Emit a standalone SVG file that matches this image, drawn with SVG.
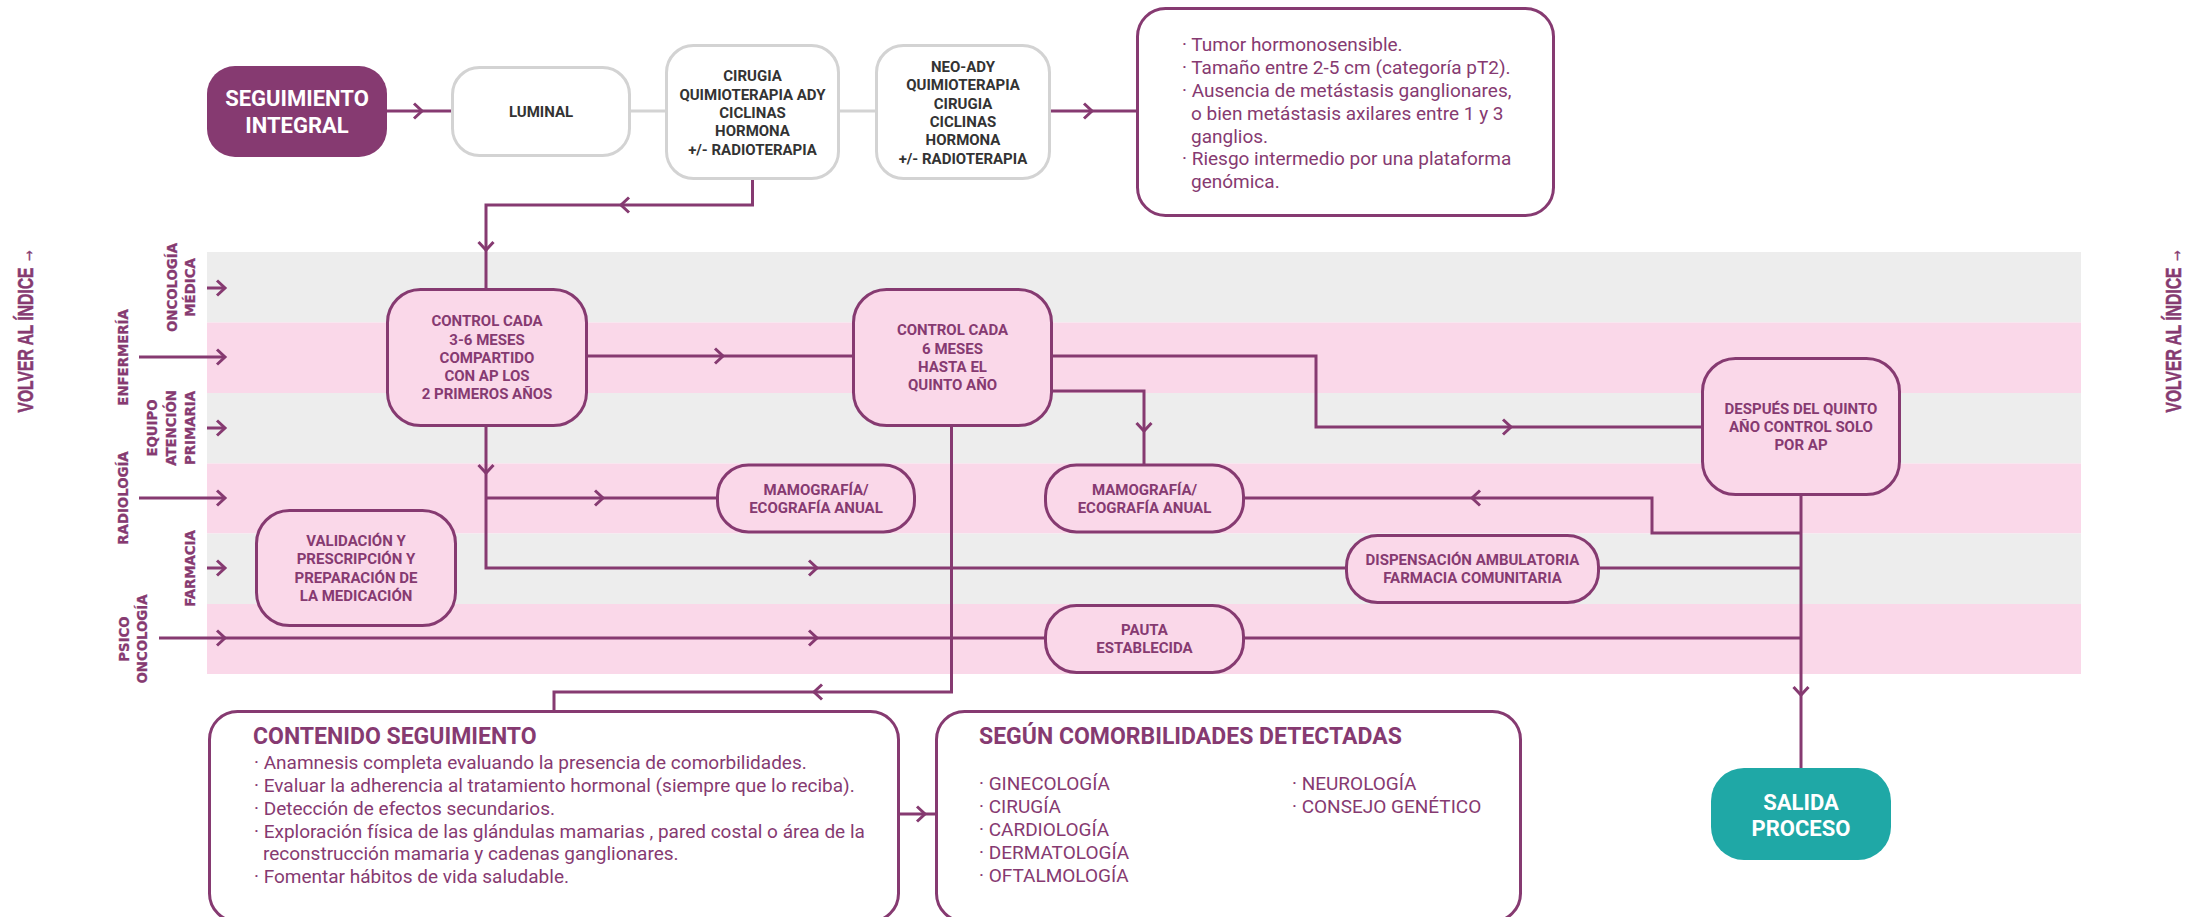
<svg xmlns="http://www.w3.org/2000/svg" xmlns:xlink="http://www.w3.org/1999/xlink" width="2188" height="917" viewBox="0 0 2188 917">
<style>
.bg{fill:#ffffff}
.bandG{fill:#ededed}
.bandP{fill:#fad8e9}
.ln{fill:none;stroke:#863a71;stroke-width:3}
.gl{fill:none;stroke:#d3d3d3;stroke-width:3}
.pk{fill:#fad8e9;stroke:#863a71;stroke-width:3}
.wb{fill:#ffffff;stroke:#863a71;stroke-width:3}
.gy{fill:#ffffff;stroke:#d3d3d3;stroke-width:3}
.nt{font-family:Roboto,"Liberation Sans",sans-serif;font-weight:700;font-size:15px;fill:#863a71;text-anchor:middle}
.gt{font-family:Roboto,"Liberation Sans",sans-serif;font-weight:700;font-size:15px;fill:#333333;text-anchor:middle}
.wt{font-family:Roboto,"Liberation Sans",sans-serif;font-weight:700;font-size:22px;fill:#ffffff;text-anchor:middle}
.bt{font-family:Roboto,"Liberation Sans",sans-serif;font-weight:400;font-size:19px;fill:#863a71}
.tt{font-family:Roboto,"Liberation Sans",sans-serif;font-weight:700;font-size:23px;fill:#863a71}
.lane{font-family:"DejaVu Sans","Liberation Sans",sans-serif;font-weight:700;font-size:13.3px;fill:#863a71;stroke:#863a71;stroke-width:0.3;text-anchor:middle}
.vol{font-family:"Liberation Sans Narrow","Liberation Sans",sans-serif;font-weight:700;font-size:22px;fill:#863a71;stroke:#863a71;stroke-width:0.5;text-anchor:middle}
</style>
<defs>
<path id="ch" d="M-8,-7.5 L0,0 L-8,7.5" fill="none" stroke="#863a71" stroke-width="3"/>
</defs>
<rect class="bg" x="0" y="0" width="2188" height="917"/>

<g id="lanes">
<rect class="bandG" x="207" y="252" width="1874" height="70.5"/>
<rect class="bandP" x="207" y="322.5" width="1874" height="70.5"/>
<rect class="bandG" x="207" y="393" width="1874" height="70.5"/>
<rect class="bandP" x="207" y="463.5" width="1874" height="70"/>
<rect class="bandG" x="207" y="533.5" width="1874" height="70.5"/>
<rect class="bandP" x="207" y="604" width="1874" height="70"/>
<text class="lane" transform="translate(177,287.5) rotate(-90)">ONCOLOGÍA</text>
<text class="lane" transform="translate(195,287.5) rotate(-90)">MÉDICA</text>
<text class="lane" transform="translate(128,357.5) rotate(-90)">ENFERMERÍA</text>
<text class="lane" transform="translate(157,428) rotate(-90)">EQUIPO</text>
<text class="lane" transform="translate(176,428) rotate(-90)">ATENCIÓN</text>
<text class="lane" transform="translate(195,428) rotate(-90)">PRIMARIA</text>
<text class="lane" transform="translate(128,498) rotate(-90)">RADIOLOGÍA</text>
<text class="lane" transform="translate(195,568.5) rotate(-90)">FARMACIA</text>
<text class="lane" transform="translate(129,639) rotate(-90)">PSICO</text>
<text class="lane" transform="translate(147,639) rotate(-90)">ONCOLOGÍA</text>
</g>

<g id="volver-izq">
<text class="vol" transform="translate(33,330) rotate(-90)" textLength="165" lengthAdjust="spacingAndGlyphs">VOLVER AL ÍNDICE →</text>
</g>
<g id="volver-der">
<text class="vol" transform="translate(2181,330) rotate(-90)" textLength="165" lengthAdjust="spacingAndGlyphs">VOLVER AL ÍNDICE →</text>
</g>

<g id="connectors">
<path class="ln" d="M387,111 H451"/>
<path class="gl" d="M631,111 H665"/>
<path class="gl" d="M840,111 H875"/>
<path class="ln" d="M1051,111 H1137"/>
<path class="ln" d="M752.5,179 V205 H486 V288"/>
<path class="ln" d="M207,288 H225"/>
<path class="ln" d="M139,357 H225"/>
<path class="ln" d="M207,428 H225"/>
<path class="ln" d="M139,498 H225"/>
<path class="ln" d="M207,568 H225"/>
<path class="ln" d="M159,638 H1045"/>
<path class="ln" d="M588,356 H852"/>
<path class="ln" d="M1053,356 H1316 V427 H1701"/>
<path class="ln" d="M1053,391 H1144 V464"/>
<path class="ln" d="M486,427 V568 H1345"/>
<path class="ln" d="M486,498 H716"/>
<path class="ln" d="M1245,498 H1652 V533 H1801"/>
<path class="ln" d="M1600,568 H1801"/>
<path class="ln" d="M1244,638 H1801"/>
<path class="ln" d="M1801,496 V768"/>
<path class="ln" d="M951.5,427 V692 H554 V710"/>
<path class="ln" d="M900,814 H935"/>
<use xlink:href="#ch" transform="translate(422,111)"/>
<use xlink:href="#ch" transform="translate(1092,111)"/>
<use xlink:href="#ch" transform="translate(621,205) rotate(180)"/>
<use xlink:href="#ch" transform="translate(486,250) rotate(90)"/>
<use xlink:href="#ch" transform="translate(225,288)"/>
<use xlink:href="#ch" transform="translate(225,357)"/>
<use xlink:href="#ch" transform="translate(225,428)"/>
<use xlink:href="#ch" transform="translate(225,498)"/>
<use xlink:href="#ch" transform="translate(225,568)"/>
<use xlink:href="#ch" transform="translate(225,638)"/>
<use xlink:href="#ch" transform="translate(723,356)"/>
<use xlink:href="#ch" transform="translate(1511,427)"/>
<use xlink:href="#ch" transform="translate(1144,431) rotate(90)"/>
<use xlink:href="#ch" transform="translate(486,473) rotate(90)"/>
<use xlink:href="#ch" transform="translate(603,498)"/>
<use xlink:href="#ch" transform="translate(817,568)"/>
<use xlink:href="#ch" transform="translate(1472,498) rotate(180)"/>
<use xlink:href="#ch" transform="translate(817,638)"/>
<use xlink:href="#ch" transform="translate(814,692) rotate(180)"/>
<use xlink:href="#ch" transform="translate(1801,695) rotate(90)"/>
<use xlink:href="#ch" transform="translate(925,814)"/>
</g>

<g id="seguimiento-integral">
<rect x="207" y="66" width="180" height="91" rx="28" fill="#863a71"/>
<text class="wt" x="297" y="105.7">SEGUIMIENTO</text>
<text class="wt" x="297" y="133">INTEGRAL</text>
</g>

<g id="luminal">
<rect class="gy" x="452.5" y="67.5" width="177" height="88" rx="27"/>
<text class="gt" x="541" y="116.8">LUMINAL</text>
</g>

<g id="cirugia">
<rect class="gy" x="666.5" y="45.5" width="172" height="133" rx="27"/>
<text class="gt" x="752.5" y="81.3">CIRUGIA</text>
<text class="gt" x="752.5" y="99.6">QUIMIOTERAPIA ADY</text>
<text class="gt" x="752.5" y="117.9">CICLINAS</text>
<text class="gt" x="752.5" y="136.2">HORMONA</text>
<text class="gt" x="752.5" y="154.5">+/- RADIOTERAPIA</text>
</g>

<g id="neo-ady">
<rect class="gy" x="876.5" y="45.5" width="173" height="133" rx="27"/>
<text class="gt" x="963" y="72">NEO-ADY</text>
<text class="gt" x="963" y="90.3">QUIMIOTERAPIA</text>
<text class="gt" x="963" y="108.6">CIRUGIA</text>
<text class="gt" x="963" y="126.9">CICLINAS</text>
<text class="gt" x="963" y="145.2">HORMONA</text>
<text class="gt" x="963" y="163.5">+/- RADIOTERAPIA</text>
</g>

<g id="criterios">
<rect class="wb" x="1137.5" y="8.5" width="416" height="207" rx="28"/>
<text class="bt" x="1182" y="51">· Tumor hormonosensible.</text>
<text class="bt" x="1182" y="74">· Tamaño entre 2-5 cm (categoría pT2).</text>
<text class="bt" x="1182" y="97">· Ausencia de metástasis ganglionares,</text>
<text class="bt" x="1191" y="119.5">o bien metástasis axilares entre 1 y 3</text>
<text class="bt" x="1191" y="142.5">ganglios.</text>
<text class="bt" x="1182" y="165">· Riesgo intermedio por una plataforma</text>
<text class="bt" x="1191" y="188">genómica.</text>
</g>

<g id="control-3-6">
<rect class="pk" x="387.5" y="289.5" width="199" height="136" rx="33"/>
<text class="nt" x="487" y="326.2">CONTROL CADA</text>
<text class="nt" x="487" y="344.5">3-6 MESES</text>
<text class="nt" x="487" y="362.8">COMPARTIDO</text>
<text class="nt" x="487" y="381.1">CON AP LOS</text>
<text class="nt" x="487" y="399.4">2 PRIMEROS AÑOS</text>
</g>

<g id="control-6">
<rect class="pk" x="853.5" y="289.5" width="198" height="136" rx="33"/>
<text class="nt" x="952.5" y="335.4">CONTROL CADA</text>
<text class="nt" x="952.5" y="353.7">6 MESES</text>
<text class="nt" x="952.5" y="372">HASTA EL</text>
<text class="nt" x="952.5" y="390.3">QUINTO AÑO</text>
</g>

<g id="despues">
<rect class="pk" x="1702.5" y="358.5" width="197" height="136" rx="33"/>
<text class="nt" x="1801" y="413.5">DESPUÉS DEL QUINTO</text>
<text class="nt" x="1801" y="431.8">AÑO CONTROL SOLO</text>
<text class="nt" x="1801" y="450.1">POR AP</text>
</g>

<g id="mamografia-1">
<rect class="pk" x="717.5" y="465" width="197" height="67" rx="31"/>
<text class="nt" x="816" y="494.7">MAMOGRAFÍA/</text>
<text class="nt" x="816" y="513">ECOGRAFÍA ANUAL</text>
</g>

<g id="mamografia-2">
<rect class="pk" x="1045.5" y="465" width="198" height="67" rx="31"/>
<text class="nt" x="1144.5" y="494.7">MAMOGRAFÍA/</text>
<text class="nt" x="1144.5" y="513">ECOGRAFÍA ANUAL</text>
</g>

<g id="validacion">
<rect class="pk" x="256.5" y="510.5" width="199" height="115" rx="33"/>
<text class="nt" x="356" y="545.9">VALIDACIÓN Y</text>
<text class="nt" x="356" y="564.2">PRESCRIPCIÓN Y</text>
<text class="nt" x="356" y="582.5">PREPARACIÓN DE</text>
<text class="nt" x="356" y="600.8">LA MEDICACIÓN</text>
</g>

<g id="dispensacion">
<rect class="pk" x="1346.5" y="535.5" width="252" height="67" rx="31"/>
<text class="nt" x="1472.5" y="564.6">DISPENSACIÓN AMBULATORIA</text>
<text class="nt" x="1472.5" y="582.9">FARMACIA  COMUNITARIA</text>
</g>

<g id="pauta">
<rect class="pk" x="1045.5" y="605.5" width="198" height="67" rx="31"/>
<text class="nt" x="1144.5" y="635">PAUTA</text>
<text class="nt" x="1144.5" y="653.3">ESTABLECIDA</text>
</g>

<g id="salida">
<rect x="1711" y="768" width="180" height="92" rx="33" fill="#1fa8a6"/>
<text class="wt" x="1801" y="810">SALIDA</text>
<text class="wt" x="1801" y="836">PROCESO</text>
</g>

<g id="contenido">
<rect class="wb" x="209.5" y="711.5" width="689" height="210" rx="28"/>
<text class="tt" x="253" y="744">CONTENIDO SEGUIMIENTO</text>
<text class="bt" x="254" y="769">· Anamnesis completa evaluando la presencia de comorbilidades.</text>
<text class="bt" x="254" y="791.5">· Evaluar la adherencia al tratamiento hormonal (siempre que lo reciba).</text>
<text class="bt" x="254" y="814.5">· Detección de efectos secundarios.</text>
<text class="bt" x="254" y="837.5">· Exploración física de las glándulas mamarias , pared costal o área de la</text>
<text class="bt" x="263" y="860">reconstrucción mamaria y cadenas ganglionares.</text>
<text class="bt" x="254" y="883">· Fomentar hábitos de vida saludable.</text>
</g>

<g id="comorbilidades">
<rect class="wb" x="936.5" y="711.5" width="584" height="210" rx="28"/>
<text class="tt" x="979" y="744">SEGÚN COMORBILIDADES DETECTADAS</text>
<text class="bt" x="979" y="790">· GINECOLOGÍA</text>
<text class="bt" x="979" y="813">· CIRUGÍA</text>
<text class="bt" x="979" y="836">· CARDIOLOGÍA</text>
<text class="bt" x="979" y="858.5">· DERMATOLOGÍA</text>
<text class="bt" x="979" y="881.5">· OFTALMOLOGÍA</text>
<text class="bt" x="1292" y="790">· NEUROLOGÍA</text>
<text class="bt" x="1292" y="813">· CONSEJO GENÉTICO</text>
</g>
</svg>
